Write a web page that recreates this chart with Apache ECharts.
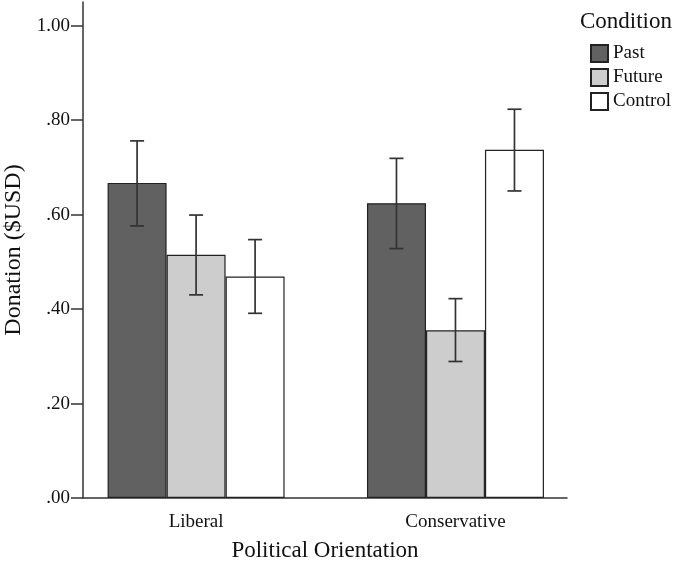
<!DOCTYPE html>
<html>
<head>
<meta charset="utf-8">
<script src="https://cdn.jsdelivr.net/npm/echarts@6/dist/echarts.min.js"></script>
<style>html,body{margin:0;padding:0;background:#fff}#c{width:677px;height:567px}</style>
</head>
<body>
<div id="c"></div>
<script>
const categories = ['Liberal', 'Conservative'];
const conditions = ['Past', 'Future', 'Control'];
const pastMean = [0.667, 0.624];
const futureMean = [0.515, 0.355];
const controlMean = [0.469, 0.737];
const pastLow = [0.576, 0.528];
const pastHigh = [0.756, 0.719];
const futureLow = [0.430, 0.289];
const futureHigh = [0.599, 0.422];
const controlLow = [0.391, 0.650];
const controlHigh = [0.547, 0.823];
const yTicks = [0, 0.2, 0.4, 0.6, 0.8, 1.0];

const colors = ['#616161', '#cdcdcd', '#ffffff'];
const means = [pastMean, futureMean, controlMean];
const lows = [pastLow, futureLow, controlLow];
const highs = [pastHigh, futureHigh, controlHigh];
const BAR_W = 59;
const FONT = '"Liberation Serif", "DejaVu Serif", serif';

const chart = echarts.init(document.getElementById('c'));

const barSeries = conditions.map((name, k) => ({
  name: name,
  type: 'bar',
  barWidth: BAR_W,
  barGap: '0%',
  itemStyle: { color: colors[k], borderColor: '#222', borderWidth: 1.2 },
  data: categories.map((c, i) => [i, means[k][i]])
}));

const errData = [];
conditions.forEach((n, k) => categories.forEach((c, i) => errData.push([i, k, lows[k][i], highs[k][i]])));

const errSeries = {
  type: 'custom',
  silent: true,
  z: 10,
  encode: { x: 0, y: [2, 3] },
  data: errData,
  renderItem: function (params, api) {
    const x = api.value(0), k = api.value(1);
    const lo = api.coord([x, api.value(2)]);
    const hi = api.coord([x, api.value(3)]);
    const cx = lo[0] + (k - 1) * BAR_W;
    const hw = 7;
    const st = { stroke: '#333', lineWidth: 1.7 };
    return {
      type: 'group',
      children: [
        { type: 'line', shape: { x1: cx, y1: lo[1], x2: cx, y2: hi[1] }, style: st },
        { type: 'line', shape: { x1: cx - hw, y1: lo[1], x2: cx + hw, y2: lo[1] }, style: st },
        { type: 'line', shape: { x1: cx - hw, y1: hi[1], x2: cx + hw, y2: hi[1] }, style: st }
      ]
    };
  }
};

chart.setOption({
  animation: false,
  backgroundColor: '#fff',
  textStyle: { fontFamily: FONT },
  title: {
    text: 'Condition', left: 575, top: 5,
    textStyle: { fontFamily: FONT, fontSize: 23, fontWeight: 'normal', color: '#111' }
  },
  legend: {
    data: conditions,
    orient: 'vertical',
    left: 585, top: 39,
    icon: 'rect',
    itemWidth: 17, itemHeight: 17, itemGap: 5,
    textStyle: { fontFamily: FONT, fontSize: 19, color: '#111' }
  },
  grid: { left: 83, right: 110, top: 2, bottom: 69, outerBoundsMode: 'none', containLabel: false },
  xAxis: {
    type: 'value',
    min: -0.436, max: 1.43,
    splitLine: { show: false },
    axisLine: { show: true, onZero: false, lineStyle: { color: '#333', width: 1.5 } },
    axisTick: { show: false },
    axisLabel: {
      customValues: [0, 1],
      formatter: v => categories[Math.round(v)],
      fontFamily: FONT, fontSize: 19, color: '#111', margin: 15
    },
    name: 'Political Orientation',
    nameLocation: 'middle', nameGap: 41,
    nameTextStyle: { fontFamily: FONT, fontSize: 23, color: '#111' }
  },
  yAxis: {
    type: 'value',
    min: 0, max: 1.05,
    splitLine: { show: false },
    axisLine: { show: true, onZero: false, lineStyle: { color: '#333', width: 1.5 } },
    axisTick: { show: true, customValues: yTicks, length: 12, lineStyle: { color: '#333', width: 1.5 } },
    axisLabel: {
      customValues: yTicks,
      formatter: v => v.toFixed(2).replace(/^0/, ''),
      fontFamily: FONT, fontSize: 19, color: '#111', margin: 13
    },
    name: 'Donation ($USD)',
    nameLocation: 'middle', nameGap: 53, nameRotate: 90,
    nameTextStyle: { fontFamily: FONT, fontSize: 24, color: '#111' }
  },
  series: barSeries.concat([errSeries])
});
</script>
</body>
</html>
